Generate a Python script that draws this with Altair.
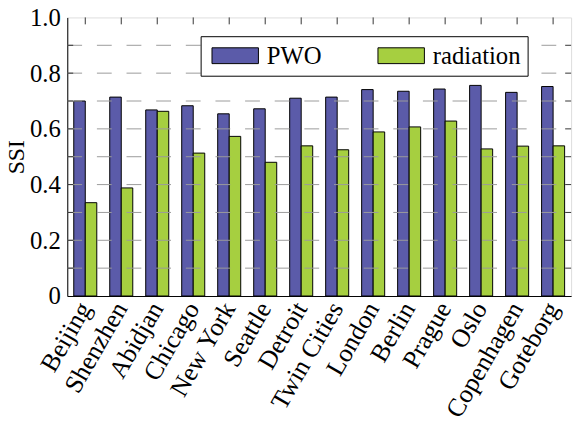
import altair as alt
import pandas as pd

cities = ["Beijing", "Shenzhen", "Abidjan", "Chicago", "New York", "Seattle", "Detroit",
          "Twin Cities", "London", "Berlin", "Prague", "Oslo", "Copenhagen", "Goteborg"]
pwo = [0.700, 0.714, 0.668, 0.683, 0.654, 0.672, 0.710, 0.714, 0.741, 0.735, 0.743, 0.756, 0.731, 0.752]
radiation = [0.335, 0.388, 0.663, 0.513, 0.573, 0.480, 0.539, 0.525, 0.589, 0.607, 0.628, 0.528, 0.538, 0.539]
series = ["PWO", "radiation"]
colors = ["#5b5ba9", "#a6cf40"]
grid_vals = [0.1, 0.2, 0.3, 0.4, 0.5, 0.6, 0.7, 0.8, 0.9]
label_vals = [0, 0.2, 0.4, 0.6, 0.8, 1.0]

W, H = 510, 282
FONT = "Liberation Serif, Times New Roman, serif"
FS = 25

rows = []
for c, p, r in zip(cities, pwo, radiation):
    rows.append({"city": c, "series": "PWO", "value": p})
    rows.append({"city": c, "series": "radiation", "value": r})
df = pd.DataFrame(rows)
grid_df = pd.DataFrame({"value": grid_vals})
city_df = pd.DataFrame({"city": cities})

xscale = alt.Scale(domain=cities, paddingInner=0.36, paddingOuter=0.18)
yscale = alt.Scale(domain=[0, 1])

xaxis = alt.Axis(title=None, labelAngle=-60, labelAlign="right", labelBaseline="middle",
                 ticks=False, labelPadding=8, labelFont=FONT, labelFontSize=26,
                 labelColor="black", domainColor="black", labelLimit=300)
yaxis = alt.Axis(title="SSI", values=label_vals, grid=False, ticks=False,
                 labelExpr="datum.value == 0 ? '0' : format(datum.value, '.1f')",
                 labelFont=FONT, labelFontSize=FS, labelColor="black", labelPadding=7,
                 titleFont=FONT, titleFontSize=24, titleFontWeight="normal",
                 titleColor="black", titleX=-44, titleY=H / 2, titleBaseline="alphabetic",
                 titleAngle=270, domainColor="black")

bars = alt.Chart(df).mark_bar(stroke="black", strokeWidth=1, opacity=1).encode(
    x=alt.X("city:N", scale=xscale, sort=cities, axis=xaxis),
    xOffset=alt.XOffset("series:N", scale=alt.Scale(domain=series, paddingInner=0, paddingOuter=0)),
    y=alt.Y("value:Q", scale=yscale, axis=yaxis),
    color=alt.Color("series:N", scale=alt.Scale(domain=series, range=colors),
                    legend=alt.Legend(title=None, orient="none", legendX=135, legendY=19,
                                      direction="horizontal", columns=2,
                                      symbolType="M-1,-1H4.875V1H-1Z", symbolSize=256,
                                      symbolStrokeColor="black", symbolStrokeWidth=1,
                                      symbolOpacity=1,
                                      labelFont=FONT, labelFontSize=FS, labelColor="black",
                                      labelOffset=35, columnPadding=52,
                                      strokeColor="black", fillColor="white", padding=7)),
)

grid = alt.Chart(grid_df).mark_rule(color="#9a9a9a", strokeWidth=1, strokeDash=[15, 15]).encode(
    y=alt.Y("value:Q", scale=yscale, axis=yaxis),
    x=alt.value(0), x2=alt.value(W),
)
left_ticks = alt.Chart(grid_df).mark_rule(color="#333333", strokeWidth=1).encode(
    y=alt.Y("value:Q", scale=yscale, axis=yaxis), x=alt.value(0), x2=alt.value(6))
right_ticks = alt.Chart(grid_df).mark_rule(color="#333333", strokeWidth=1).encode(
    y=alt.Y("value:Q", scale=yscale, axis=yaxis), x=alt.value(W - 6), x2=alt.value(W))
top_ticks = alt.Chart(city_df).mark_rule(color="#333333", strokeWidth=1).encode(
    x=alt.X("city:N", scale=xscale, sort=cities, axis=xaxis), y=alt.value(0), y2=alt.value(7))

chart = alt.layer(bars, grid, left_ticks, right_ticks, top_ticks).properties(
    width=W, height=H,
    autosize=alt.AutoSizeParams(type="none"),
    padding={"left": 60, "top": 7, "right": 8, "bottom": 126},
).configure_view(stroke="black", strokeWidth=1.2).configure(
    background="white", font=FONT
).configure_axis(labelFont=FONT, titleFont=FONT).configure_legend(labelFont=FONT)

chart.save("out.html", embed_options={"renderer": "svg", "actions": False})
